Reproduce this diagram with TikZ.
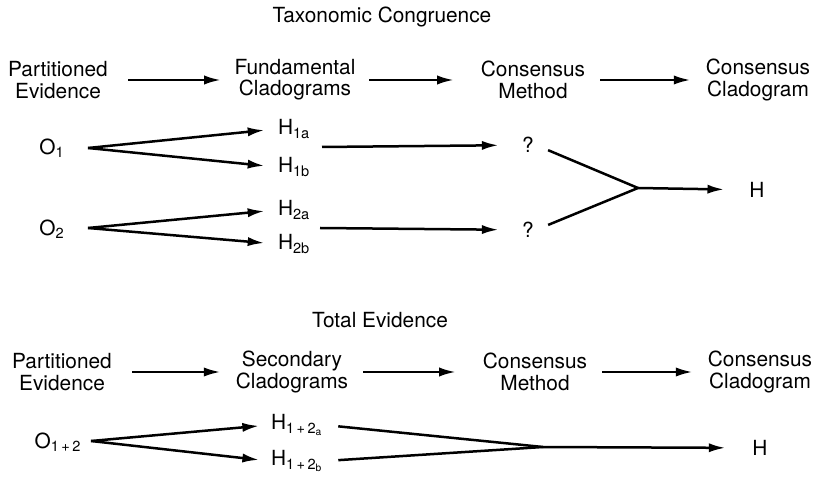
\documentclass[tikz,border=0pt]{standalone}
\usepackage{fontspec}
\setmainfont{TeX Gyre Heros}
\usetikzlibrary{arrows.meta}

\begin{document}
\begin{tikzpicture}[x=0.6pt,y=-0.6pt,
    font=\fontsize{12.5}{12.8}\selectfont,
    hd/.style={align=center,inner sep=1pt},
    lbl/.style={inner sep=1pt},
    arr/.style={line width=1.5pt,-{Latex[length=10pt,width=5.5pt]}},
    ln/.style={line width=1.5pt}]
    \useasboundingbox (0,0) rectangle (817,481);

    % Taxonomic Congruence
    \node (tcTitle) at (382,17) {Taxonomic Congruence};
    \node[hd] (tcEvid) at (58,80) {Partitioned\\Evidence};
    \node[hd] (tcFund) at (295,80) {Fundamental\\Cladograms};
    \node[hd] (tcMeth) at (533,80) {Consensus\\Method};
    \node[hd] (tcCons) at (758,80) {Consensus\\Cladogram};
    \begin{scope}[arr]
    \draw[shorten <=11pt,shorten >=7pt] (tcEvid) -- (tcFund);
    \draw[shorten <=7pt,shorten >=15pt] (tcFund) -- (tcMeth);
    \draw[shorten <=8pt,shorten >=8pt] (tcMeth) -- (tcCons);
    \end{scope}

    \node[lbl] (O1) at (52,148) {O\textsubscript{1}};
    \node[lbl] (O2) at (52,229) {O\textsubscript{2}};
    \node[lbl,anchor=west] (H1a) at (276,129) {H\textsubscript{1a}};
    \node[lbl,anchor=west] (H1b) at (276,167) {H\textsubscript{1b}};
    \node[lbl,anchor=west] (H2a) at (276,210) {H\textsubscript{2a}};
    \node[lbl,anchor=west] (H2b) at (276,244) {H\textsubscript{2b}};
    \node[lbl] (Q1) at (528,145) {?};
    \node[lbl] (Q2) at (528,230) {?};
    \node[lbl] (tcH) at (757,190) {H};
    \coordinate (o1) at (88,148);
    \coordinate (o2) at (88,228);
    \coordinate (g1) at (322,147);
    \coordinate (g2) at (320,228);
    \coordinate (j1) at (638,188);

    \begin{scope}[arr]
    \draw[shorten >=7pt] (o1) -- (H1a.west);
    \draw[shorten >=7pt] (o1) -- (H1b.west);
    \draw[shorten >=7pt] (o2) -- (H2a.west);
    \draw[shorten >=7pt] (o2) -- (H2b.west);
    \draw[shorten >=13pt] (g1) -- (Q1);
    \draw[shorten >=13pt] (g2) -- (Q2);
    \draw[shorten >=14pt] (j1) -- (tcH);
    \end{scope}
    \draw[ln,shorten <=8pt] (Q1.east) -- (j1);
    \draw[ln,shorten <=8pt] (Q2.east) -- (j1);

    % Total Evidence
    \node (teTitle) at (380,320) {Total Evidence};
    \node[hd] (teEvid) at (62,372) {Partitioned\\Evidence};
    \node[hd] (teSec) at (292,372) {Secondary\\Cladograms};
    \node[hd] (teMeth) at (535,372) {Consensus\\Method};
    \node[hd] (teCons) at (760,372) {Consensus\\Cladogram};
    \begin{scope}[arr]
    \draw[shorten <=11pt,shorten >=8pt] (teEvid) -- (teSec);
    \draw[shorten <=8pt,shorten >=15pt] (teSec) -- (teMeth);
    \draw[shorten <=8pt,shorten >=8pt] (teMeth) -- (teCons);
    \end{scope}

    \node[lbl] (O12) at (58,442) {O\textsubscript{1\,+\,2}};
    \node[lbl,anchor=west] (H12a) at (269,425) {H\textsubscript{1\,+\,2\textsubscript{a}}};
    \node[lbl,anchor=west] (H12b) at (269,461) {H\textsubscript{1\,+\,2\textsubscript{b}}};
    \node[lbl] (teH) at (760,448) {H};
    \coordinate (o12) at (91,441);
    \coordinate (j2) at (543,447);

    \begin{scope}[arr]
    \draw[shorten >=6pt] (o12) -- (H12a.west);
    \draw[shorten >=6pt] (o12) -- (H12b.west);
    \draw[shorten >=15pt] (j2) -- (teH);
    \end{scope}
    \draw[ln,shorten <=8pt] (H12a.east) -- (j2);
    \draw[ln,shorten <=8pt] (H12b.east) -- (j2);
\end{tikzpicture}
\end{document}
